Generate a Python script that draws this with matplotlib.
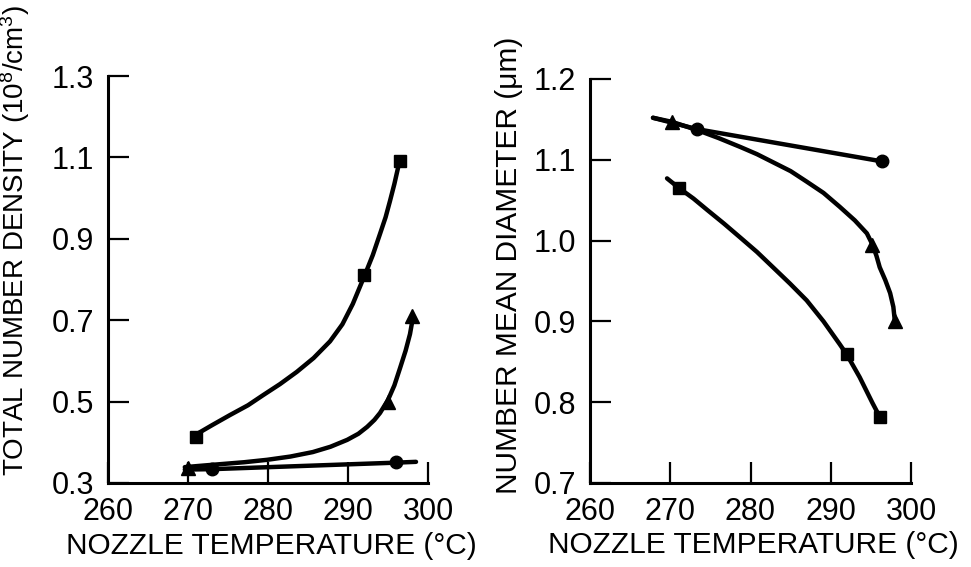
import matplotlib
matplotlib.use("Agg")
import matplotlib.pyplot as plt
from matplotlib.ticker import FormatStrFormatter

plt.rcParams['font.family'] = ['Liberation Sans', 'DejaVu Sans']
plt.rcParams['mathtext.default'] = 'regular'

# ---- total number density vs nozzle temperature ----
dens_sq_T = [271, 292, 296.5]
dens_sq = [0.413, 0.81, 1.09]
dens_tri_T = [270, 295, 298]
dens_tri = [0.337, 0.50, 0.71]
dens_ci_T = [273, 296]
dens_ci = [0.334, 0.352]

# hand-drawn fit curves
dens_sq_curve_T = [270.9, 273.0, 275.25, 277.5, 279.4, 281.5, 283.6, 285.7, 287.75, 289.3,
                   290.6, 292.1, 293.1, 294.0, 294.7, 295.25, 295.8, 296.25, 296.5]
dens_sq_curve = [0.418, 0.442, 0.467, 0.491, 0.516, 0.543, 0.573, 0.607, 0.648, 0.690,
                 0.740, 0.811, 0.860, 0.912, 0.953, 0.993, 1.035, 1.074, 1.094]
dens_tri_curve_T = [269.6, 272.0, 274.5, 277.0, 279.9, 282.8, 285.6, 287.8, 289.9, 291.3,
                    292.4, 293.3, 294.0, 295.0, 295.8, 296.5, 297.2, 297.75, 298.1]
dens_tri_curve = [0.339, 0.343, 0.347, 0.351, 0.357, 0.365, 0.376, 0.389, 0.406, 0.421,
                  0.438, 0.455, 0.472, 0.504, 0.540, 0.582, 0.625, 0.666, 0.705]
dens_ci_curve_T = [269.6, 273.0, 296.0, 298.5]
dens_ci_curve = [0.333, 0.334, 0.350, 0.352]

# ---- number mean diameter vs nozzle temperature ----
diam_sq_T = [271.1, 292.0, 296.1]
diam_sq = [1.065, 0.86, 0.782]
diam_tri_T = [270.2, 295.2, 298.0]
diam_tri = [1.147, 0.995, 0.90]
diam_ci_T = [273.3, 296.4]
diam_ci = [1.138, 1.098]

diam_sq_curve_T = [269.6, 271.1, 272.9, 274.6, 276.7, 278.7, 280.8, 282.8, 284.9, 287.0,
                   289.1, 291.1, 292.0, 292.8, 293.6, 294.4, 295.2, 296.1]
diam_sq_curve = [1.077, 1.065, 1.052, 1.038, 1.021, 1.004, 0.986, 0.967, 0.947, 0.926,
                 0.900, 0.872, 0.859, 0.845, 0.831, 0.815, 0.799, 0.782]
diam_tri_curve_T = [267.85, 270.2, 273.3, 276.0, 278.7, 280.8, 282.8, 285.0, 287.0, 289.1,
                    291.1, 293.0, 294.5, 295.2, 295.7, 296.1, 296.8, 297.4, 297.8, 298.0]
diam_tri_curve = [1.152, 1.147, 1.137, 1.127, 1.116, 1.107, 1.097, 1.086, 1.073, 1.059,
                  1.042, 1.025, 1.009, 0.995, 0.981, 0.967, 0.951, 0.935, 0.918, 0.899]
diam_ci_curve_T = [267.85, 273.3, 296.4]
diam_ci_curve = [1.152, 1.138, 1.098]

W, H = 971, 567
fig = plt.figure(figsize=(W / 100, H / 100), dpi=100)
ax1 = fig.add_axes([108 / W, 1 - 483 / H, 320 / W, 407 / H])
ax2 = fig.add_axes([590 / W, 1 - 483 / H, 321 / W, 404 / H])

lw = 3.2
for ax in (ax1, ax2):
    for s in ('top', 'right'):
        ax.spines[s].set_visible(False)
    for s in ('left', 'bottom'):
        ax.spines[s].set_linewidth(2.2)
    ax.tick_params(direction='in', length=15, width=1.6, labelsize=22, pad=10)
    ax.set_xlim(260, 300)
    ax.set_xticks([260, 270, 280, 290, 300])

# left panel
ax1.plot(dens_sq_curve_T, dens_sq_curve, 'k-', lw=lw, solid_capstyle='round', solid_joinstyle='round', clip_on=False)
ax1.plot(dens_tri_curve_T, dens_tri_curve, 'k-', lw=lw, solid_capstyle='round', solid_joinstyle='round', clip_on=False)
ax1.plot(dens_ci_curve_T, dens_ci_curve, 'k-', lw=lw, solid_capstyle='round', clip_on=False)
ax1.plot(dens_sq_T, dens_sq, 's', color='k', ms=9, clip_on=False)
ax1.plot(dens_tri_T, dens_tri, '^', color='k', ms=10, clip_on=False)
ax1.plot(dens_ci_T, dens_ci, 'o', color='k', ms=9, clip_on=False)
ax1.set_ylim(0.3, 1.3)
ax1.set_yticks([0.3, 0.5, 0.7, 0.9, 1.1, 1.3])
ax1.yaxis.set_major_formatter(FormatStrFormatter('%.1f'))
ax1.set_ylabel('TOTAL NUMBER DENSITY (10$^8$/cm$^3$)', fontsize=20)
ax1.yaxis.set_label_coords(-0.2375, 0.595)
ax1.set_xlabel('NOZZLE TEMPERATURE (°C)', fontsize=21.5)
ax1.xaxis.set_label_coords(0.51, -0.12)

# right panel
ax2.plot(diam_sq_curve_T, diam_sq_curve, 'k-', lw=lw, solid_capstyle='round', solid_joinstyle='round', clip_on=False)
ax2.plot(diam_tri_curve_T, diam_tri_curve, 'k-', lw=lw, solid_capstyle='round', solid_joinstyle='round', clip_on=False)
ax2.plot(diam_ci_curve_T, diam_ci_curve, 'k-', lw=lw, solid_capstyle='round', clip_on=False)
ax2.plot(diam_sq_T, diam_sq, 's', color='k', ms=9, clip_on=False)
ax2.plot(diam_tri_T, diam_tri, '^', color='k', ms=10, clip_on=False)
ax2.plot(diam_ci_T, diam_ci, 'o', color='k', ms=9, clip_on=False)
ax2.set_ylim(0.7, 1.2)
ax2.set_yticks([0.7, 0.8, 0.9, 1.0, 1.1, 1.2])
ax2.yaxis.set_major_formatter(FormatStrFormatter('%.1f'))
ax2.set_ylabel('NUMBER MEAN DIAMETER (μm)', fontsize=21.5)
ax2.yaxis.set_label_coords(-0.209, 0.54)
ax2.set_xlabel('NOZZLE TEMPERATURE (°C)', fontsize=21.5)
ax2.xaxis.set_label_coords(0.51, -0.12)

fig.savefig('out.png', dpi=100)
